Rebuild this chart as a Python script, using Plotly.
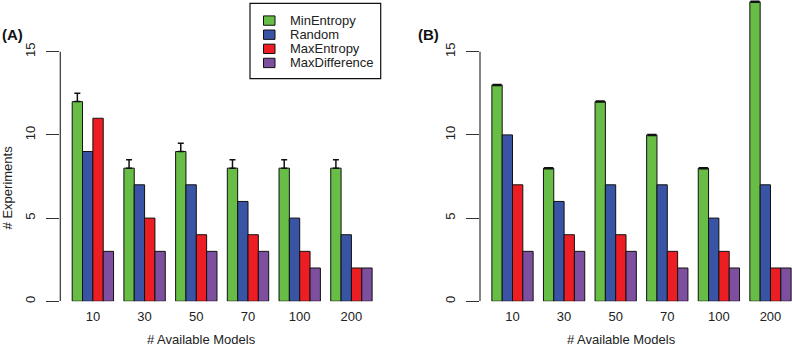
import plotly.graph_objects as go

# ---------------- data ----------------
categories = ["10", "30", "50", "70", "100", "200"]
series_names = ["MinEntropy", "Random", "MaxEntropy", "MaxDifference"]
series_colors = ["#67BD45", "#3954A5", "#EC1E24", "#7E4F9F"]

# Panel A
a_min_entropy = [12, 8, 9, 8, 8, 8]
a_min_entropy_err = [0.5, 0.5, 0.5, 0.5, 0.5, 0.5]
a_random = [9, 7, 7, 6, 5, 4]
a_max_entropy = [11, 5, 4, 4, 3, 2]
a_max_difference = [3, 3, 3, 3, 2, 2]

# Panel B
b_min_entropy = [13, 8, 12, 10, 8, 18]
b_min_entropy_err = [0, 0, 0, 0, 0, 0]
b_random = [10, 6, 7, 7, 5, 7]
b_max_entropy = [7, 4, 4, 3, 3, 2]
b_max_difference = [3, 3, 3, 2, 2, 2]

y_tick_vals = [0, 5, 10, 15]
x_title = "# Available Models"
y_title = "# Experiments"

# ---------------- figure ----------------
W, H = 792, 349
FONT = "Liberation Sans, Arial, Helvetica, sans-serif"
TXT = "#222222"
AX = "#333333"

fig = go.Figure()

panels = [
    ("x", "y", [a_min_entropy, a_random, a_max_entropy, a_max_difference], a_min_entropy_err, 1.5, 3),
    ("x2", "y2", [b_min_entropy, b_random, b_max_entropy, b_max_difference], b_min_entropy_err, 2.5, 4.5),
]

for xa, ya, vals, err, thick, capw in panels:
    for i, (name, color, v) in enumerate(zip(series_names, series_colors, vals)):
        kw = {}
        if i == 0:
            kw["error_y"] = dict(type="data", symmetric=False, array=err,
                                 arrayminus=[0] * len(err), color="#111111",
                                 thickness=thick, width=capw)
        fig.add_trace(go.Bar(
            x=categories, y=v, name=name, xaxis=xa, yaxis=ya,
            marker=dict(color=color, line=dict(color="#111111", width=1)),
            showlegend=False, legendgroup=name, cliponaxis=False, **kw))

yd = [46 / H, 1.0]
yrange = [0, 303 / 16.733]

common_x = dict(type="category", showline=False, showgrid=False, zeroline=False,
                ticks="", ticklabelstandoff=6,
                tickfont=dict(family=FONT, size=13, color=TXT), fixedrange=True)
common_y = dict(range=yrange, domain=yd, showline=False, showgrid=False, zeroline=False,
                tickvals=y_tick_vals, ticks="outside", ticklen=13, tickwidth=1.2,
                tickcolor=AX, tickangle=-90, ticklabelstandoff=6,
                tickfont=dict(family=FONT, size=13, color=TXT))

fig.update_layout(
    width=W, height=H,
    margin=dict(l=0, r=0, t=0, b=0),
    paper_bgcolor="white", plot_bgcolor="white",
    barmode="group", bargap=0.2, bargroupgap=0,
    font=dict(family=FONT, size=13, color=TXT),
    xaxis=dict(domain=[60.3 / W, 384 / W], range=[-0.63, 5.63], anchor="y", **common_x),
    xaxis2=dict(domain=[480 / W, 1.0], range=[-0.63, 5.417], anchor="y2", **common_x),
    yaxis=dict(anchor="x", **common_y),
    yaxis2=dict(anchor="x2", **common_y),
    showlegend=False,
)

# y axis lines spanning 0..15 (R style)
for xa, ya in [("x", "y"), ("x2", "y2")]:
    fig.add_shape(type="line", xref=f"{xa} domain", yref=ya, x0=0, x1=0,
                  y0=y_tick_vals[0], y1=y_tick_vals[-1],
                  line=dict(color=AX, width=1.2))

# legend (R style box) built from series names / colours
LX0, LX1, LY0, LY1 = 250, 380.7, 3.3, 79
fig.add_shape(type="rect", xref="paper", yref="paper",
              x0=LX0 / W, x1=LX1 / W, y0=1 - LY1 / H, y1=1 - LY0 / H,
              line=dict(color="#111111", width=1.2), fillcolor="white", layer="above")
for i, (name, color) in enumerate(zip(series_names, series_colors)):
    yc = 20.7 + 14.2 * i
    fig.add_shape(type="rect", xref="paper", yref="paper",
                  x0=263.5 / W, x1=275 / W, y0=1 - (yc + 4.7) / H, y1=1 - (yc - 4.7) / H,
                  line=dict(color="#111111", width=1), fillcolor=color, layer="above")
    fig.add_annotation(xref="paper", yref="paper", showarrow=False,
                       text=name, x=287.5 / W, y=1 - yc / H, xanchor="left", yanchor="middle",
                       font=dict(size=13, family=FONT, color=TXT))

annotations = [
    dict(text="<b>(A)</b>", x=0 / W, y=1 - 35 / H, xanchor="left", yanchor="middle",
         font=dict(size=15, family=FONT, color="#111111")),
    dict(text="<b>(B)</b>", x=416 / W, y=1 - 35 / H, xanchor="left", yanchor="middle",
         font=dict(size=15, family=FONT, color="#111111")),
    dict(text=x_title, x=201 / W, y=1 - 341 / H, xanchor="center", yanchor="middle",
         font=dict(size=13, family=FONT, color=TXT)),
    dict(text=x_title, x=621 / W, y=1 - 341 / H, xanchor="center", yanchor="middle",
         font=dict(size=13, family=FONT, color=TXT)),
    dict(text=y_title, x=7.5 / W, y=1 - 189 / H, xanchor="center", yanchor="middle",
         textangle=-90, font=dict(size=13, family=FONT, color=TXT)),
]
for a in annotations:
    fig.add_annotation(xref="paper", yref="paper", showarrow=False, **a)

fig.write_html("out.html",
               config={"displayModeBar": False},
               post_script="document.body.style.margin='0px';document.body.style.padding='0px';")
